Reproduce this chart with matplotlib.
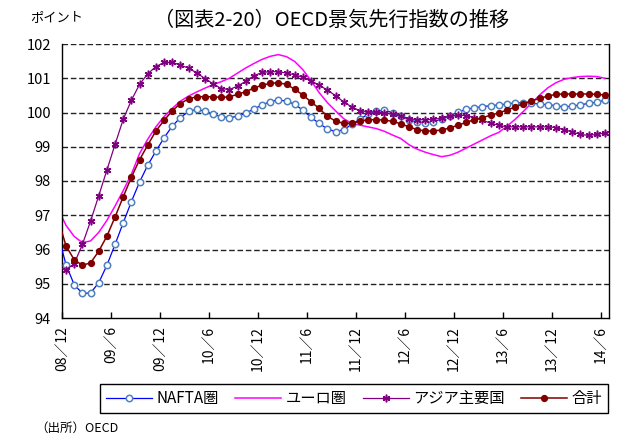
import matplotlib
matplotlib.use('Agg')
import matplotlib.pyplot as plt
import numpy as np

plt.rcParams['font.family'] = ['Noto Sans CJK JP', 'DejaVu Sans']

# Monthly index values, first value is the month before 08/12 (clipped at the edge)
nafta = [96.45, 95.55, 94.97, 94.72, 94.73, 95.03, 95.54, 96.15, 96.78, 97.40,
         97.97, 98.46, 98.87, 99.26, 99.60, 99.85, 100.03, 100.09, 100.04, 99.95,
         99.88, 99.85, 99.89, 99.98, 100.10, 100.22, 100.32, 100.37, 100.33, 100.24,
         100.07, 99.86, 99.68, 99.52, 99.44, 99.50, 99.65, 99.81, 99.95, 100.05,
         100.06, 100.00, 99.91, 99.79, 99.72, 99.70, 99.73, 99.81, 99.91, 100.01,
         100.09, 100.14, 100.17, 100.20, 100.22, 100.25, 100.28, 100.29, 100.28, 100.24,
         100.23, 100.20, 100.16, 100.19, 100.22, 100.27, 100.30, 100.36]
euro = [97.20, 96.70, 96.38, 96.20, 96.25, 96.50, 96.85, 97.27, 97.72, 98.20,
        98.80, 99.22, 99.58, 99.88, 100.12, 100.33, 100.48, 100.60, 100.71, 100.81,
        100.90, 101.00, 101.15, 101.30, 101.43, 101.55, 101.64, 101.69, 101.63, 101.49,
        101.25, 100.93, 100.58, 100.29, 100.05, 99.82, 99.68, 99.63, 99.58, 99.53,
        99.45, 99.34, 99.24, 99.06, 98.93, 98.84, 98.77, 98.71, 98.75, 98.84,
        98.96, 99.08, 99.20, 99.32, 99.42, 99.60, 99.80, 100.03, 100.27, 100.51,
        100.72, 100.87, 100.97, 101.02, 101.05, 101.06, 101.05, 101.00]
asia = [95.50, 95.40, 95.59, 96.15, 96.83, 97.57, 98.32, 99.07, 99.80, 100.36,
        100.82, 101.13, 101.34, 101.46, 101.46, 101.39, 101.29, 101.16, 100.99, 100.84,
        100.70, 100.67, 100.77, 100.91, 101.07, 101.17, 101.19, 101.19, 101.15, 101.10,
        101.03, 100.93, 100.79, 100.66, 100.49, 100.31, 100.16, 100.05, 100.02, 100.01,
        99.99, 99.95, 99.89, 99.82, 99.79, 99.79, 99.80, 99.84, 99.89, 99.92,
        99.91, 99.85, 99.77, 99.69, 99.63, 99.58, 99.58, 99.58, 99.58, 99.58,
        99.58, 99.56, 99.50, 99.43, 99.36, 99.33, 99.36, 99.40]
total = [96.90, 96.10, 95.70, 95.54, 95.61, 95.95, 96.39, 96.95, 97.54, 98.11,
         98.62, 99.05, 99.46, 99.77, 100.05, 100.26, 100.40, 100.46, 100.46, 100.46,
         100.44, 100.46, 100.53, 100.61, 100.71, 100.80, 100.85, 100.87, 100.82, 100.68,
         100.51, 100.31, 100.12, 99.89, 99.75, 99.68, 99.69, 99.74, 99.79, 99.79,
         99.78, 99.74, 99.67, 99.58, 99.50, 99.46, 99.46, 99.49, 99.55, 99.63,
         99.71, 99.79, 99.85, 99.92, 99.99, 100.07, 100.16, 100.26, 100.34, 100.41,
         100.48, 100.53, 100.54, 100.54, 100.54, 100.54, 100.53, 100.51]

tick_labels = ['08／12', '09／6', '09／12', '10／6', '10／12', '11／6',
               '11／12', '12／6', '12／12', '13／6', '13／12', '14／6']

x = np.arange(len(nafta)) - 0.5

fig = plt.figure(figsize=(6.22, 4.37), dpi=100)
ax = fig.add_axes([62/622, 1 - 318/437, 547/622, 274/437])

ax.plot(x, nafta, color='#0000FF', lw=0.9, marker='o', ms=4.6,
        mfc='white', mec='#4F81BD', mew=1.1, label='NAFTA圏', zorder=3)
ax.plot(x, euro, color='#FF00FF', lw=1.1, label='ユーロ圏', zorder=2)
ax.plot(x, asia, color='#800080', lw=0.9, marker=(6, 2, 0), ms=5.5,
        mec='#800080', mew=1.1, label='アジア主要国', zorder=3)
ax.plot(x, total, color='#800000', lw=1.1, marker='o', ms=4.2,
        mfc='#800000', mec='#800000', label='合計', zorder=4)

ax.set_xlim(0, 67)
ax.set_ylim(94, 102)
ax.set_yticks(range(94, 103))
ax.set_xticks(range(0, 67, 6))
ax.set_xticklabels(tick_labels, rotation=90, fontsize=10)
ax.tick_params(axis='y', length=0, labelsize=10.5, pad=8)
ax.tick_params(axis='x', direction='in', length=4, width=1, pad=6)
for v in range(95, 103):
    ax.axhline(v, color='#222222', lw=1.0, ls=(0, (4, 2)), zorder=1)
ax.spines['top'].set_visible(False)
for s in ['left', 'right', 'bottom']:
    ax.spines[s].set_linewidth(1.0)
    ax.spines[s].set_color('black')

fig.text(332/622, 1 - 20/437, '（図表2-20）OECD景気先行指数の推移',
         ha='center', va='center', fontsize=14.5)
fig.text(30/622, 1 - 18/437, 'ポイント', ha='left', va='center', fontsize=9.5)
fig.text(35/622, 1 - 428/437, '（出所）OECD', ha='left', va='center', fontsize=9)

leg = fig.legend(loc='lower left', ncol=4, mode='expand',
                 bbox_to_anchor=(100/622, 1 - 413/437, 508/622, 27/437),
                 borderaxespad=0, fancybox=False, edgecolor='black',
                 fontsize=11, handlelength=3, columnspacing=1.0,
                 handletextpad=0.3, framealpha=1)
leg.get_frame().set_linewidth(1.0)

fig.savefig('out.png', dpi=100)
